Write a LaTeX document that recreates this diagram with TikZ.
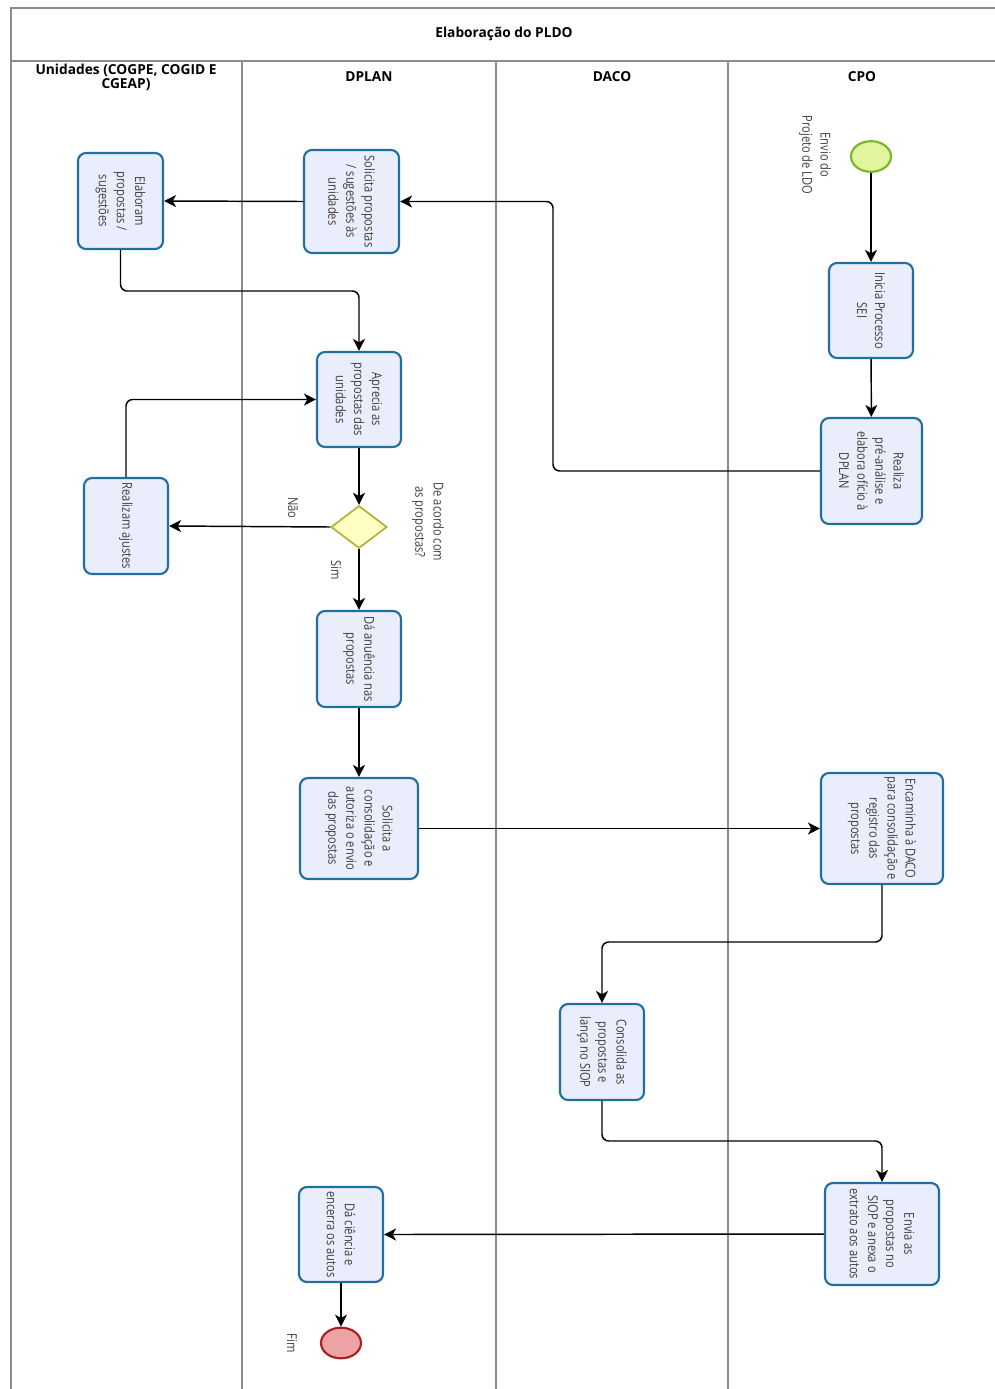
\documentclass[tikz,border=0pt]{standalone}
\usepackage{fontspec}
\setmainfont{Open Sans}
\newfontfamily\boxfont[FakeStretch=0.82]{Open Sans}
\newfontfamily\headfont{Open Sans}
\usetikzlibrary{arrows.meta,shapes.geometric}

\definecolor{laneline}{HTML}{8C8C8C}
\definecolor{taskfill}{HTML}{EAEDFC}
\definecolor{taskdraw}{HTML}{1F6FA0}
\definecolor{txtgray}{HTML}{3F3F3F}
\definecolor{startfill}{HTML}{E2F59C}
\definecolor{startdraw}{HTML}{78B52C}
\definecolor{endfill}{HTML}{EBA3A3}
\definecolor{enddraw}{HTML}{AD1F1F}
\definecolor{gatefill}{HTML}{FFFFC4}
\definecolor{gatedraw}{HTML}{B3B13A}

\tikzset{
  lane/.style={draw=laneline, line width=1.1pt},
  taskbox/.style={draw=taskdraw, fill=taskfill, line width=1.6pt,
    rounded corners=6pt, inner sep=0pt},
  tasktext/.style={rotate=-90, align=center, text=txtgray, inner sep=0pt,
    font=\boxfont\fontsize{10.2}{13.6}\selectfont},
  note/.style={rotate=-90, align=center, text=txtgray, inner sep=0pt,
    font=\boxfont\fontsize{10.2}{13.6}\selectfont},
  header/.style={align=center, text=black, inner sep=0pt,
    font=\headfont\bfseries\fontsize{10.3}{10.5}\selectfont},
  flow/.style={draw=black, line width=1.1pt, rounded corners=5pt,
    -{Stealth[length=9pt,width=9pt,inset=2.5pt]}},
  startev/.style={ellipse, draw=startdraw, fill=startfill, line width=1.6pt,
    minimum width=30pt, minimum height=23pt, inner sep=0pt},
  endev/.style={ellipse, draw=enddraw, fill=endfill, line width=1.6pt,
    minimum width=30pt, minimum height=23pt, inner sep=0pt},
  gate/.style={diamond, draw=gatedraw, fill=gatefill, line width=1.3pt,
    minimum width=42pt, minimum height=32pt, inner sep=0pt, aspect=1.33},
}

% task box: name, x, y, width, height (px), text
\newcommand\taskat[6]{%
  \node[taskbox, minimum width=#4*0.75pt, minimum height=#5*0.75pt] (#1) at (#2,#3) {};
  \node[tasktext] (#1-t) at (#1) {#6};}

\begin{document}
\begin{tikzpicture}[x=0.75pt, y=-0.75pt]
\useasboundingbox (0,0) rectangle (995,1389);

% pool frame and lanes
\draw[lane] (995,8) -- (11,8) -- (11,1389);
\draw[lane] (11,61) -- (995,61);
\draw[lane] (242,61) -- (242,1389);
\draw[lane] (496,61) -- (496,1389);
\draw[lane] (728,61) -- (728,1389);

\node[header] (title) at (504,34) {Elaboração do PLDO};
\node[header] (h1) at (126,77) {Unidades (COGPE, COGID E\\CGEAP)};
\node[header] (h2) at (369,77) {DPLAN};
\node[header] (h3) at (612,77) {DACO};
\node[header] (h4) at (862,77) {CPO};

% events and gateway
\node[startev] (start) at (871,156.5) {};
\node[note] (start-l) at (815,155) {Envio do\\Projeto de LDO};
\node[endev] (fim) at (341,1343) {};
\node[note] (fim-l) at (292,1343) {Fim};
\node[gate] (dec) at (359,527) {};
\node[note] (dec-l) at (428,522) {De acordo com\\as propostas?};

% tasks
\taskat{elab}{120.5}{201}{85}{96}{Elaboram\\propostas /\\sugestões}
\taskat{solprop}{351.5}{201.5}{95}{103}{Solicita propostas\\/ sugestões às\\unidades}
\taskat{inicia}{871}{310.5}{84}{95}{Inicia Processo\\SEI}
\taskat{realiza}{871.5}{471}{101}{106}{Realiza\\pré-análise e\\elabora ofício à\\DPLAN}
\taskat{aprecia}{359}{399.5}{84}{95}{Aprecia as\\propostas das\\unidades}
\taskat{ajust}{126}{526}{84}{96}{Realizam ajustes}
\taskat{anuen}{359}{659}{84}{96}{Dá anuência nas\\propostas}
\taskat{solcons}{359}{828.5}{118}{101}{Solicita a\\consolidação e\\autoriza o envio\\das propostas}
\taskat{encam}{882}{828.5}{122}{111}{Encaminha à DACO\\para consolidação e\\registro das\\propostas}
\taskat{consol}{602}{1052}{84}{96}{Consolida as\\propostas e\\lança no SIOP}
\taskat{envia}{882}{1234}{114}{102}{Envia as\\propostas no\\SIOP e anexa o\\extrato aos autos}
\taskat{ciencia}{341}{1234.5}{84}{95}{Dá ciência e\\encerra os autos}

% bend points
\coordinate (r1) at (553,330);
\coordinate (c1) at (240,291);
\coordinate (c2) at (740,942);
\coordinate (c3) at (740,1141);

% sequence flows
\draw[flow] (start) -- (inicia);
\draw[flow] (inicia) -- (realiza);
\draw[flow] (realiza.west) -| (r1) |- (solprop.east);
\draw[flow] (solprop.west) -- (elab.east);
\draw[flow] (elab.south) |- (c1) -| (aprecia.north);
\draw[flow] (aprecia) -- (dec);
\draw[flow] (dec.west) -- (ajust.east);
\node[note] (nao) at (293,508) {Não};
\draw[flow] (ajust.north) |- (aprecia.west);
\draw[flow] (dec.south) -- (anuen.north);
\node[note] (sim) at (336,570) {Sim};
\draw[flow] (anuen) -- (solcons);
\draw[flow] (solcons.east) -- (encam.west);
\draw[flow] (encam.south) |- (c2) -| (consol.north);
\draw[flow] (consol.south) |- (c3) -| (envia.north);
\draw[flow] (envia.west) -- (ciencia.east);
\draw[flow] (ciencia) -- (fim);
\end{tikzpicture}
\end{document}
